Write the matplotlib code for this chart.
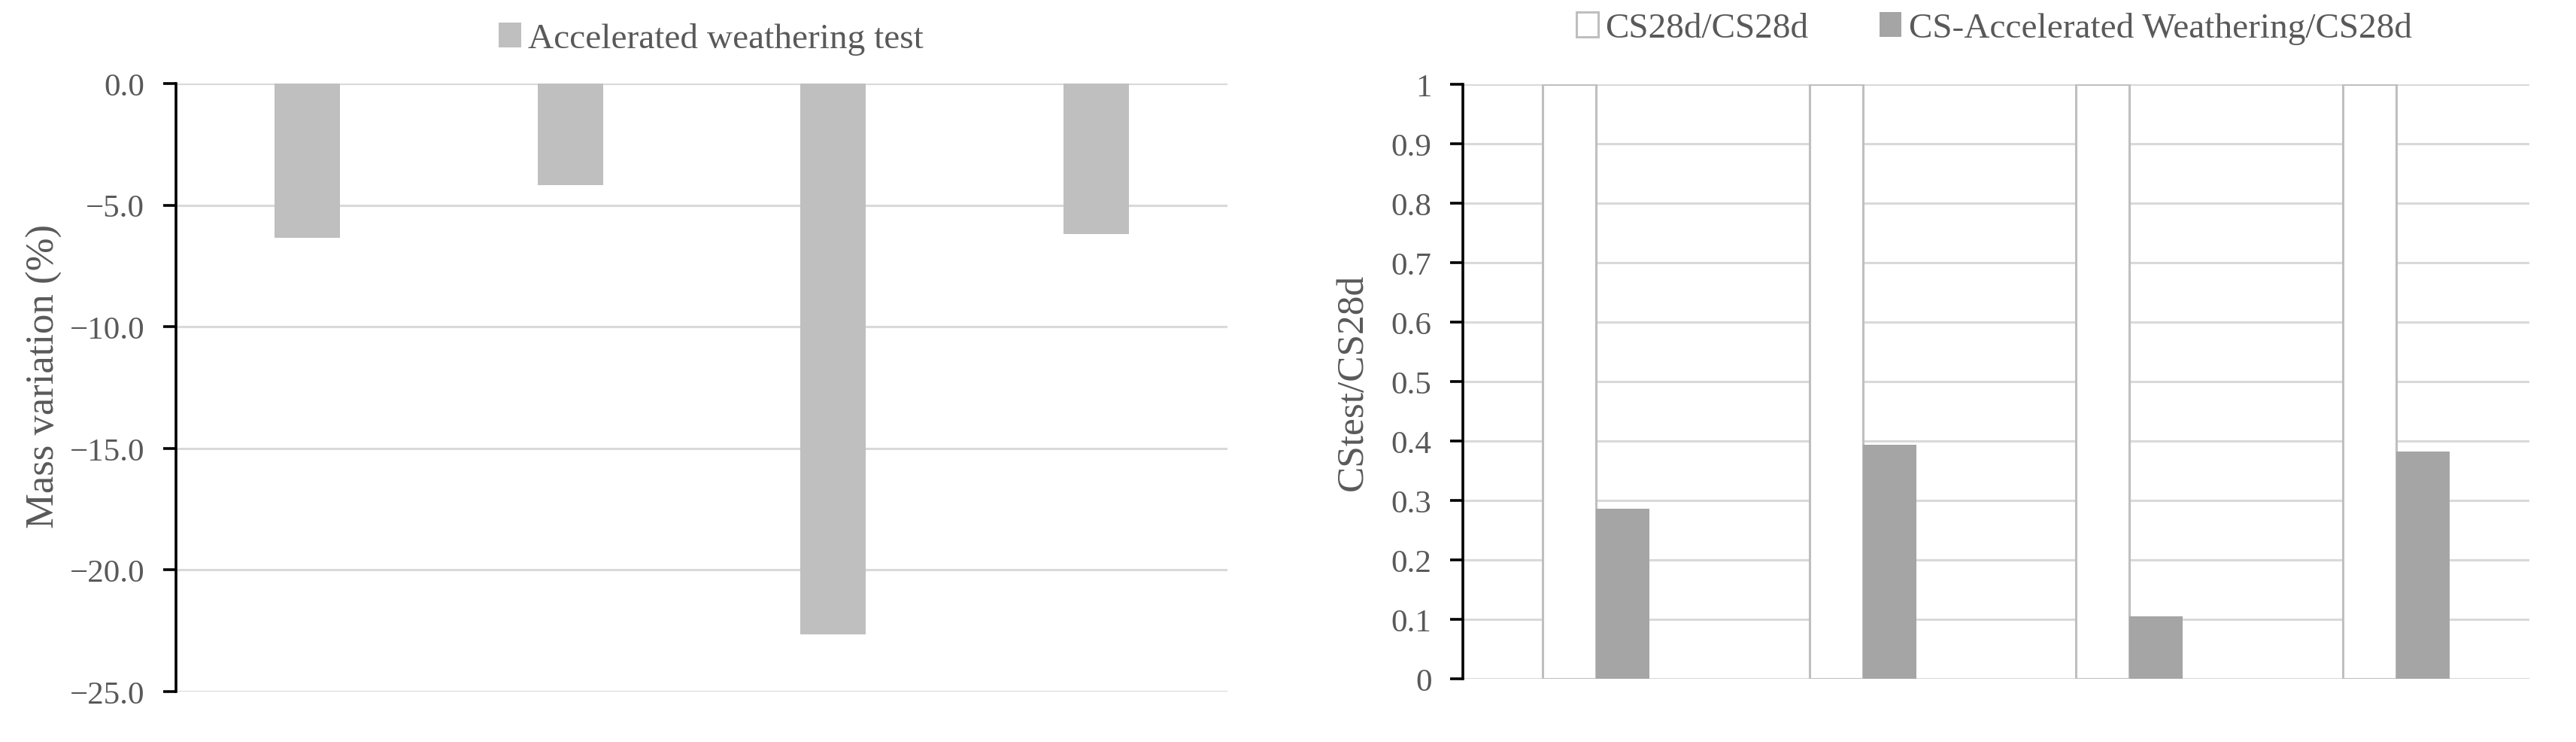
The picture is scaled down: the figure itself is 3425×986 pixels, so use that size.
import matplotlib
matplotlib.use("Agg")
from matplotlib import pyplot as plt
import numpy as np

# data
samples = ["S1", "S2", "S3", "S4"]
mass_variation = [-6.33, -4.17, -22.66, -6.19]
cs_ratio_ref = [1.0, 1.0, 1.0, 1.0]
cs_ratio_weathering = [0.286, 0.394, 0.105, 0.382]

plt.rcParams['font.family'] = ['Liberation Serif', 'DejaVu Serif']
text_color = '#595959'
grid_color = '#d9d9d9'

fig = plt.figure(figsize=(34.25, 9.87), dpi=100)

x = np.arange(len(samples))


def style_axes(ax):
    for side in ['top', 'right', 'bottom']:
        ax.spines[side].set_visible(False)
    ax.spines['left'].set_linewidth(2.6)
    ax.spines['left'].set_color('black')
    ax.tick_params(axis='y', direction='out', length=12, width=2.6,
                   color='black', labelcolor=text_color, labelsize=31, pad=18)
    ax.tick_params(axis='x', bottom=False, labelbottom=False)
    ax.yaxis.grid(True, color=grid_color, linewidth=2.2)
    ax.set_axisbelow(True)
    ax.set_xlim(-0.5, len(samples) - 0.5)


# Left chart: mass variation
ax1 = fig.add_axes([0.0683, 0.0679, 0.4082, 0.8186])
ax1.bar(x, mass_variation, width=0.25, color='#bfbfbf',
        label='Accelerated weathering test')
ax1.set_ylim(-25, 0)
ax1.set_yticks(np.arange(-25, 1, 5))
ax1.set_yticklabels(['%.1f' % v if v == 0 else '\u2212%.1f' % abs(v)
                     for v in np.arange(-25, 1, 5)])
style_axes(ax1)
ax1.set_ylabel('Mass variation (%)', fontsize=38, color=text_color)
ax1.yaxis.set_label_coords(-0.108, 0.52)
ax1.legend(loc='center', bbox_to_anchor=(0.509, 1.074), frameon=False,
           fontsize=34, labelcolor=text_color, handlelength=0.62,
           handleheight=0.7, handletextpad=0.2)

# Right chart: compressive strength ratio
ax2 = fig.add_axes([0.5679, 0.0851, 0.4140, 0.8004])
ax2.bar(x - 0.1, cs_ratio_ref, width=0.2, color='white', edgecolor='#bfbfbf',
        linewidth=2.2, label='CS28d/CS28d')
ax2.bar(x + 0.1, cs_ratio_weathering, width=0.2, color='#a5a5a5',
        label='CS-Accelerated Weathering/CS28d')
ax2.set_ylim(0, 1)
ticks2 = np.round(np.arange(0, 1.01, 0.1), 1)
ax2.set_yticks(ticks2)
ax2.set_yticklabels(['0' if t == 0 else '1' if t == 1 else '%.1f' % t for t in ticks2])
style_axes(ax2)
ax2.set_ylabel('CStest/CS28d', fontsize=37, color=text_color)
ax2.yaxis.set_label_coords(-0.087, 0.5)
ax2.legend(loc='center', bbox_to_anchor=(0.498, 1.094), frameon=False, ncol=2,
           fontsize=34, labelcolor=text_color, handlelength=0.62,
           handleheight=0.7, handletextpad=0.2, columnspacing=2.0)

fig.savefig('out.png', dpi=100)
